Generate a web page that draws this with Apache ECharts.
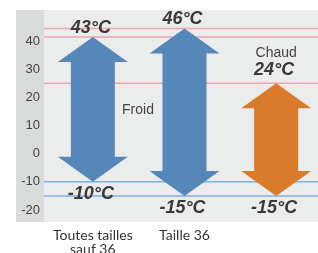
<!DOCTYPE html>
<html>
<head>
<meta charset="utf-8">
<script src="https://cdn.jsdelivr.net/npm/echarts@6/dist/echarts.min.js"></script>
<style>
  html, body { margin: 0; padding: 0; background: #fff; }
  #main { width: 318px; height: 253px; }
</style>
</head>
<body>
<div id="main"></div>
<script>
// data
const categories = ['Toutes tailles\nsauf 36', 'Taille 36', '']
const lows = [-10, -15, -15]
const highs = [41.5, 44.5, 25]
const topLabels = ['43°C', '46°C', '24°C']
const bottomLabels = ['-10°C', '-15°C', '-15°C']
const redLines = [44.5, 41.5, 25]
const blueLines = [-10, -15]
const yTicks = [-20, -10, 0, 10, 20, 30, 40]

const arrowColors = ['#5587b8', '#5587b8', '#d97b2b']
const valueFont = { fontFamily: 'Liberation Sans', fontSize: 18, fontWeight: 'bold', fontStyle: 'italic', fill: '#3a3a3a' }

var chart = echarts.init(document.getElementById('main'))

const arrowData = categories.map((c, i) => [i, lows[i], highs[i]])
const lineData = redLines.map(v => [v, '#f2a3aa']).concat(blueLines.map(v => [v, '#7fb2e2']))

var option = {
  animation: false,
  // keep the plot box fixed, the second category line is cut by the edge like the original
  grid: { left: 47, right: -4, top: 13, bottom: 43, outerBoundsMode: 'none', containLabel: false },
  graphic: [
    { type: 'rect', shape: { x: 44, y: 10, width: 274, height: 212 }, style: { fill: '#ebecec' }, silent: true },
    { type: 'rect', shape: { x: 16, y: 10, width: 28, height: 212 }, style: { fill: '#d9dada' }, silent: true },
    { type: 'text', x: 138, y: 110, style: { text: 'Froid', fontFamily: 'Liberation Sans', fontSize: 14, fill: '#444', align: 'center', verticalAlign: 'middle' }, z: 5 }
  ],
  xAxis: {
    type: 'category',
    data: categories,
    axisLine: { show: false },
    axisTick: { show: false },
    axisLabel: { color: '#333', fontFamily: 'Lato', fontSize: 14, lineHeight: 14, margin: 18, interval: 0 }
  },
  yAxis: {
    type: 'value',
    min: -20,
    max: 50,
    interval: 10,
    splitLine: { show: false },
    axisLine: { show: false },
    axisTick: { show: false },
    axisLabel: {
      color: '#444', fontFamily: 'Liberation Sans', fontSize: 13, margin: 7,
      formatter: v => yTicks.indexOf(v) >= 0 ? String(v) : ''
    }
  },
  series: [
    {
      type: 'custom',
      z: 2,
      data: lineData,
      renderItem: function (params, api) {
        const y = api.coord([0, api.value(0)])[1]
        return {
          type: 'line',
          shape: { x1: 44, y1: y, x2: 318, y2: y },
          style: { stroke: lineData[params.dataIndex][1], lineWidth: 1.5 }
        }
      }
    },
    {
      type: 'custom',
      z: 3,
      data: arrowData,
      renderItem: function (params, api) {
        const i = params.dataIndex
        const x = api.coord([api.value(0), 0])[0]
        const top = api.coord([api.value(0), api.value(2)])[1]
        const bot = api.coord([api.value(0), api.value(1)])[1]
        const hw = 35, sw = 22, hh = 25
        const pts = [
          [x, top], [x + hw, top + hh], [x + sw, top + hh], [x + sw, bot - hh], [x + hw, bot - hh],
          [x, bot], [x - hw, bot - hh], [x - sw, bot - hh], [x - sw, top + hh], [x - hw, top + hh]
        ]
        const children = [
          { type: 'polygon', shape: { points: pts }, style: { fill: arrowColors[i] } },
          { type: 'text', x: x - 2, y: top - (i === 2 ? 13 : 9), style: Object.assign({ text: topLabels[i], align: 'center', verticalAlign: 'middle' }, valueFont) },
          { type: 'text', x: x - 2, y: bot + 12, style: Object.assign({ text: bottomLabels[i], align: 'center', verticalAlign: 'middle' }, valueFont) }
        ]
        if (i === 2) {
          children.push({ type: 'text', x: x, y: top - 30, style: { text: 'Chaud', fontFamily: 'Liberation Sans', fontSize: 14, fill: '#444', align: 'center', verticalAlign: 'middle' } })
        }
        return { type: 'group', children: children }
      }
    }
  ]
}

chart.setOption(option)
</script>
</body>
</html>
